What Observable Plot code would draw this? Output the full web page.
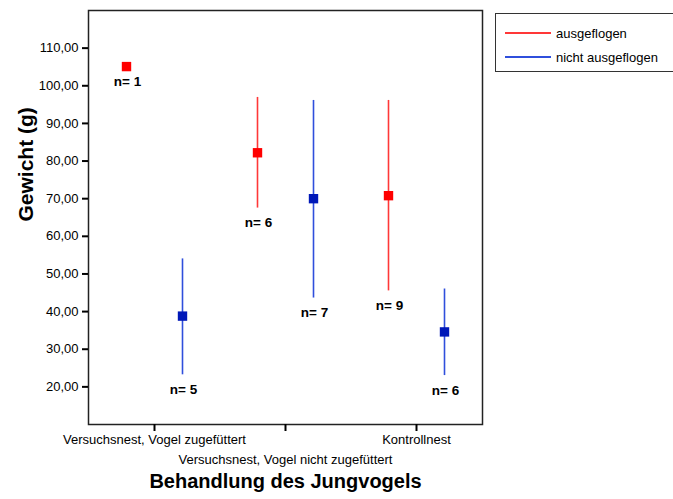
<!DOCTYPE html>
<html>
<head>
<meta charset="utf-8">
<script src="https://cdn.jsdelivr.net/npm/d3@7"></script>
<script src="https://cdn.jsdelivr.net/npm/@observablehq/plot@0.6"></script>
<style>
  html, body { margin: 0; padding: 0; background: #fff; }
  #wrap { position: relative; width: 673px; height: 499px; overflow: hidden; font-family: "Liberation Sans", Arial, sans-serif; }
  #legend { position: absolute; left: 495px; top: 13px; width: 190px; height: 59px; border: 1.5px solid #333; box-sizing: border-box; background: #fff; }
  .item { position: absolute; left: 9px; height: 16px; display: flex; align-items: center; font-size: 13px; color: #000; }
  .item .sw { display: inline-block; width: 46px; height: 2px; margin-right: 5px; }
</style>
</head>
<body>
<div id="wrap"></div>
<script>
const categories = ["Versuchsnest, Vogel zugefüttert", "Versuchsnest, Vogel nicht zugefüttert", "Kontrollnest"];
const seriesNames = ["ausgeflogen", "nicht ausgeflogen"];
const seriesColors = ["#ff0000", "#0018b8"];
const lineColors = ["#ff3838", "#2f4fdc"];

const meanAus = [105.1, 82.2, 70.8];
const lowAus = [null, 67.5, 45.5];
const highAus = [null, 96.9, 96.1];
const nAus = [1, 6, 9];

const meanNicht = [38.8, 70.0, 34.6];
const lowNicht = [23.2, 43.6, 23.0];
const highNicht = [54.0, 96.1, 46.0];
const nNicht = [5, 7, 6];

const yTicks = [20, 30, 40, 50, 60, 70, 80, 90, 100, 110];

const build = (means, lows, highs, ns) => categories.map((c, i) => ({cat: c, mean: means[i], low: lows[i], high: highs[i], n: ns[i]}));
const aus = build(meanAus, lowAus, highAus, nAus);
const nicht = build(meanNicht, lowNicht, highNicht, nNicht);

const fmt = d => d.toFixed(2).replace(".", ",");
const font = "Liberation Sans, Arial, sans-serif";

function seriesMarks(data, idx, dx) {
  return [
    Plot.ruleX(data.filter(d => d.low != null), {x: "cat", y1: "low", y2: "high", stroke: lineColors[idx], strokeWidth: 1.6, dx}),
    Plot.dot(data, {x: "cat", y: "mean", symbol: "square", r: 5.3, fill: seriesColors[idx], stroke: "none", dx}),
    Plot.text(data, {x: "cat", y: d => d.low != null ? d.low : d.mean, text: d => "n= " + d.n, dx: dx + 1, dy: 15, fontWeight: "bold", fontSize: 13.5, fill: "#000"})
  ];
}

const chart = Plot.plot({
  width: 673,
  height: 499,
  marginLeft: 88,
  marginRight: 191,
  marginTop: 10,
  marginBottom: 75,
  style: {fontFamily: font, fontSize: "13px", background: "#fff", color: "#000"},
  x: {type: "point", domain: categories, padding: 0.5},
  y: {domain: [10, 120]},
  marks: [
    Plot.frame({stroke: "#222", strokeWidth: 1.5}),
    Plot.axisY({ticks: yTicks, tickFormat: fmt, tickSize: 6, tickPadding: 4, strokeWidth: 2, label: null, fontSize: 13}),
    Plot.axisX({tickSize: 7, strokeWidth: 2, text: null, label: null}),
    Plot.text(categories.filter((c, i) => i % 2 === 0), {x: d => d, frameAnchor: "bottom", dy: 19, text: d => d, fontSize: 13}),
    Plot.text(categories.filter((c, i) => i % 2 === 1), {x: d => d, frameAnchor: "bottom", dy: 39, text: d => d, fontSize: 13}),
    Plot.text(["Behandlung des Jungvogels"], {frameAnchor: "bottom", dy: 63, text: d => d, fontSize: 20, fontWeight: "bold"}),
    Plot.text(["Gewicht (g)"], {frameAnchor: "left", dx: -62, dy: 4, rotate: -90, text: d => d, fontSize: 21, fontWeight: "bold"}),
    ...seriesMarks(aus, 0, -28),
    ...seriesMarks(nicht, 1, 28)
  ]
});

const wrap = document.getElementById("wrap");
wrap.appendChild(chart);

const legend = document.createElement("div");
legend.id = "legend";
seriesNames.forEach((name, i) => {
  const it = document.createElement("div");
  it.className = "item";
  it.style.top = (i === 0 ? 11 : 35) + "px";
  const sw = document.createElement("span");
  sw.className = "sw";
  sw.style.background = lineColors[i];
  const tx = document.createElement("span");
  tx.textContent = name;
  it.appendChild(sw);
  it.appendChild(tx);
  legend.appendChild(it);
});
wrap.appendChild(legend);
</script>
</body>
</html>
